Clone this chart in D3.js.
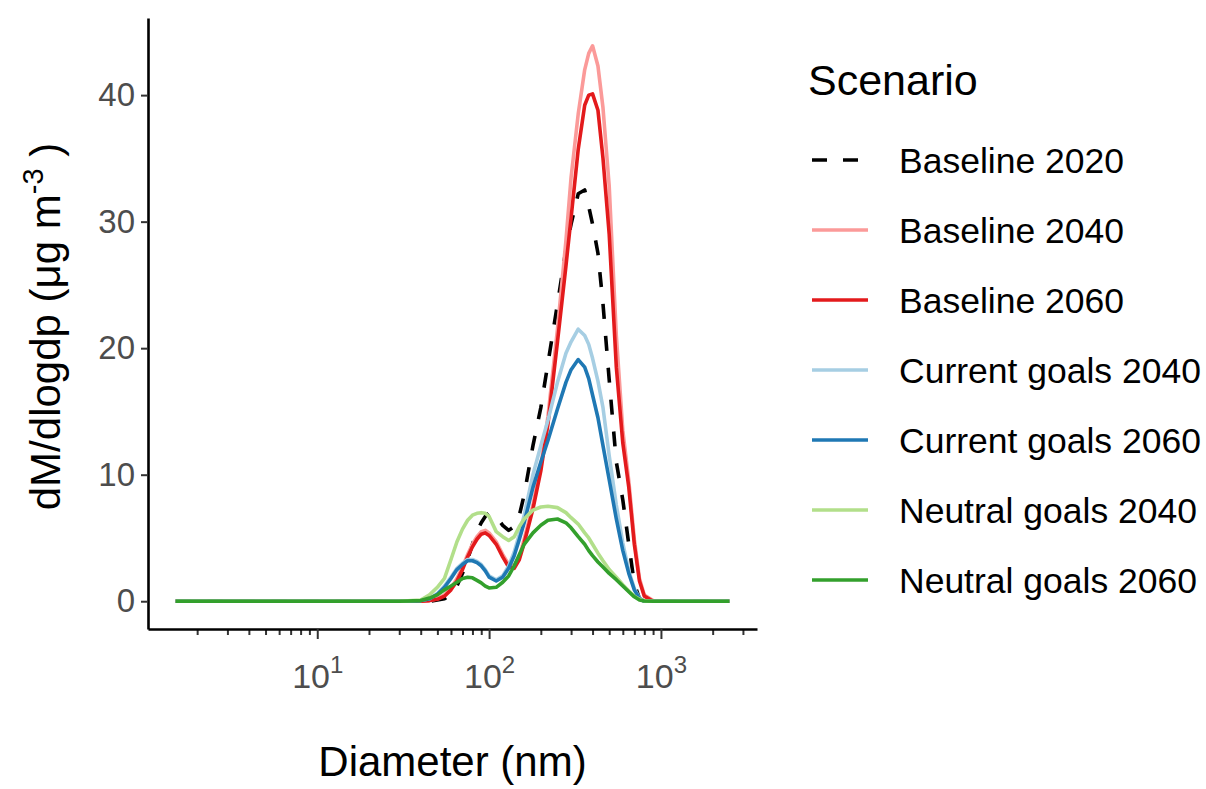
<!DOCTYPE html>
<html>
<head>
<meta charset="utf-8">
<script src="https://cdn.jsdelivr.net/npm/d3@7"></script>
<style>
    body { margin: 0; background: #fff; }
    text { font-family: "Liberation Sans", Arial, sans-serif; }
</style>
</head>
<body>
<svg id="chart"></svg>
<script>
// particle diameters (nm)
const diameters = [1.5, 30, 40, 45, 50, 55, 60, 65, 70, 75, 80, 85, 90, 95, 100, 110, 120, 130, 140, 150,
    160, 180, 200, 220, 250, 280, 300, 330, 360, 380, 400, 430, 460, 500, 550, 600, 650, 700, 750, 800,
    900, 1000, 2500];

// dM/dlogdp for each scenario, one value per diameter
const baseline2020 = [0, 0, 0, 0, 0.1, 0.2, 0.5, 1.2, 2.2, 3.3, 4.5, 5.5, 6.2, 6.7, 7.0, 6.7, 6.0, 5.6, 5.9, 6.8,
    8.4, 12.3, 15.3, 18.8, 23.5, 27.8, 29.8, 32.2, 32.5, 31.2, 29.8, 27.5, 23.5, 17.5, 11.0, 8.0, 4.5, 1.4, 0.2, 0,
    0, 0, 0];
const baseline2040 = [0, 0, 0, 0.05, 0.2, 0.5, 1.0, 1.8, 2.7, 3.7, 4.5, 5.1, 5.5, 5.6, 5.4, 4.7, 3.7, 2.9, 2.8, 3.5,
    4.9, 7.6, 10.7, 14.6, 21.5, 28.5, 33.5, 38.5, 42.0, 43.3, 43.9, 42.3, 39.0, 32.8, 21.0, 13.5, 9.5, 4.9, 1.8, 0.5,
    0.05, 0, 0];
const baseline2060 = [0, 0, 0, 0.05, 0.15, 0.4, 0.9, 1.6, 2.5, 3.5, 4.3, 4.9, 5.3, 5.4, 5.2, 4.5, 3.5, 2.7, 2.6, 3.3,
    4.6, 7.3, 10.3, 14.0, 20.5, 26.5, 30.3, 35.7, 39.2, 40.0, 40.1, 38.8, 35.0, 29.0, 18.5, 12.5, 9.0, 4.5, 1.6, 0.4,
    0, 0, 0];
const currentGoals2040 = [0, 0, 0.05, 0.2, 0.6, 1.2, 1.9, 2.6, 3.0, 3.3, 3.3, 3.15, 2.9, 2.5, 2.0, 1.7, 2.0, 2.8, 3.9, 5.3,
    6.8, 10.0, 12.3, 14.3, 17.3, 19.6, 20.5, 21.5, 21.0, 20.3, 19.2, 17.4, 15.3, 11.5, 7.6, 4.6, 2.4, 1.0, 0.25, 0,
    0, 0, 0];
const currentGoals2060 = [0, 0, 0.05, 0.2, 0.55, 1.1, 1.8, 2.5, 2.9, 3.2, 3.2, 3.05, 2.8, 2.4, 1.9, 1.6, 1.9, 2.6, 3.6, 4.9,
    6.2, 9.0, 11.0, 12.7, 15.2, 17.3, 18.3, 19.1, 18.5, 17.6, 16.3, 14.5, 12.3, 9.6, 6.5, 4.0, 2.2, 0.9, 0.2, 0,
    0, 0, 0];
const neutralGoals2040 = [0, 0, 0.1, 0.5, 1.1, 1.8, 3.3, 4.7, 5.7, 6.4, 6.8, 6.95, 7.0, 6.95, 6.7, 5.5, 5.1, 4.8, 5.1, 5.9,
    6.5, 7.2, 7.45, 7.5, 7.4, 7.0, 6.6, 6.1, 5.4, 5.0, 4.5, 3.8, 3.2, 2.5, 1.9, 1.3, 0.8, 0.4, 0.15, 0.03,
    0, 0, 0];
const neutralGoals2060 = [0, 0, 0.05, 0.25, 0.5, 0.9, 1.2, 1.5, 1.8, 1.9, 1.85, 1.65, 1.45, 1.2, 1.05, 1.1, 1.5, 2.0, 2.8, 3.7,
    4.5, 5.4, 6.0, 6.4, 6.5, 6.2, 5.8, 5.1, 4.5, 4.0, 3.6, 3.1, 2.7, 2.2, 1.7, 1.2, 0.75, 0.35, 0.1, 0.02,
    0, 0, 0];

const scenarios = ["Baseline 2020", "Baseline 2040", "Baseline 2060", "Current goals 2040",
    "Current goals 2060", "Neutral goals 2040", "Neutral goals 2060"];
const scenarioValues = [baseline2020, baseline2040, baseline2060, currentGoals2040,
    currentGoals2060, neutralGoals2040, neutralGoals2060];

const yTicks = [0, 10, 20, 30, 40];
const xMajorTicks = [10, 100, 1000];

const colors = ["#000000", "#FB9A99", "#E31A1C", "#A6CEE3", "#1F78B4", "#B2DF8A", "#33A02C"];
const color = d3.scaleOrdinal().domain(scenarios).range(colors);

const margin = { top: 18, right: 449, bottom: 160, left: 148 };
const width = 1206 - margin.left - margin.right;
const height = 789 - margin.top - margin.bottom;

const root = d3.select("#chart")
    .attr("width", width + margin.left + margin.right)
    .attr("height", height + margin.top + margin.bottom);

const svg = root.append("g")
    .attr("transform", "translate(" + margin.left + "," + margin.top + ")");

const series = scenarios.map(function(name, i) {
    return {
        name: name,
        values: diameters.map(function(d, j) {
            return { d: d, v: scenarioValues[i][j] };
        })
    };
});

// ggplot style 5% expansion, on log scale for x
const logLo = Math.log10(d3.min(diameters));
const logHi = Math.log10(d3.max(diameters));
const logPad = (logHi - logLo) * 0.05;
const xScale = d3.scaleLog()
    .domain([Math.pow(10, logLo - logPad), Math.pow(10, logHi + logPad)])
    .range([0, width]);

const yMax = d3.max(scenarioValues, function(s) { return d3.max(s); });
const yScale = d3.scaleLinear()
    .domain([-yMax * 0.05, yMax * 1.05])
    .range([height, 0]);

// minor log ticks 2..9 for each decade
const xMinorTicks = [];
for (let e = 0; e <= 3; e++) {
    for (let m = 2; m <= 9; m++) {
        const v = m * Math.pow(10, e);
        if (v >= xScale.domain()[0] && v <= xScale.domain()[1]) xMinorTicks.push(v);
    }
}

const line = d3.line()
    .x(function(d) { return xScale(d.d); })
    .y(function(d) { return yScale(d.v); });

svg.selectAll(".scenario")
    .data(series)
    .enter().append("path")
    .attr("class", "scenario")
    .attr("d", function(d) { return line(d.values); })
    .style("fill", "none")
    .style("stroke", function(d) { return color(d.name); })
    .style("stroke-width", 3.6)
    .style("stroke-linejoin", "round")
    .style("stroke-dasharray", function(d) { return d.name === "Baseline 2020" ? "15,17" : null; });

// axes
const minorAxis = svg.append("g")
    .attr("transform", "translate(0," + height + ")")
    .call(d3.axisBottom(xScale).tickValues(xMinorTicks).tickSize(6).tickFormat(""));
minorAxis.select(".domain").remove();
minorAxis.selectAll("line").style("stroke", "#333").style("stroke-width", 2);

const xAxis = svg.append("g")
    .attr("transform", "translate(0," + height + ")")
    .call(d3.axisBottom(xScale).tickValues(xMajorTicks).tickSize(10).tickSizeOuter(0).tickFormat(""));
xAxis.select(".domain").style("stroke", "#000").style("stroke-width", 2.6);
xAxis.selectAll("line").style("stroke", "#333").style("stroke-width", 2);
xAxis.selectAll(".tick text")
    .attr("y", 59)
    .attr("dy", null)
    .style("font-size", "34px")
    .attr("fill", "#4D4D4D")
    .each(function(d) {
        const t = d3.select(this);
        t.append("tspan").text("10");
        t.append("tspan").attr("dy", -15).style("font-size", "24px").text(Math.round(Math.log10(d)));
    });

const yAxis = svg.append("g")
    .call(d3.axisLeft(yScale).tickValues(yTicks).tickSize(7).tickSizeOuter(0).tickPadding(6));
yAxis.select(".domain").style("stroke", "#000").style("stroke-width", 2.6);
yAxis.selectAll("line").style("stroke", "#333").style("stroke-width", 2);
yAxis.selectAll("text")
    .style("font-size", "33px")
    .attr("fill", "#4D4D4D");

// axis titles
svg.append("text")
    .attr("text-anchor", "middle")
    .attr("x", width / 2)
    .attr("y", height + 147)
    .style("font-size", "42px")
    .text("Diameter (nm)");

const yTitle = svg.append("text")
    .attr("text-anchor", "middle")
    .attr("transform", "translate(-88," + (height / 2 + 3) + ") rotate(-90)")
    .style("font-size", "42px");
yTitle.append("tspan").text("dM/dlogdp (μg m");
yTitle.append("tspan").attr("dy", -17).style("font-size", "29px").text("-3");
yTitle.append("tspan").attr("dy", 17).text(" )");

// legend
const legend = root.append("g")
    .attr("transform", "translate(808,0)");

legend.append("text")
    .attr("x", 0)
    .attr("y", 95)
    .style("font-size", "43px")
    .text("Scenario");

const legendItems = legend.selectAll(".legend-item")
    .data(scenarios)
    .enter().append("g")
    .attr("class", "legend-item")
    .attr("transform", function(d, i) { return "translate(0," + (160 + i * 70) + ")"; });

legendItems.append("line")
    .attr("x1", 4)
    .attr("x2", 60)
    .style("stroke", function(d) { return color(d); })
    .style("stroke-width", 3.6)
    .style("stroke-dasharray", function(d) { return d === "Baseline 2020" ? "15,16" : null; });

legendItems.append("text")
    .attr("x", 91)
    .attr("dy", "0.36em")
    .style("font-size", "35.5px")
    .text(function(d) { return d; });
</script>
</body>
</html>
